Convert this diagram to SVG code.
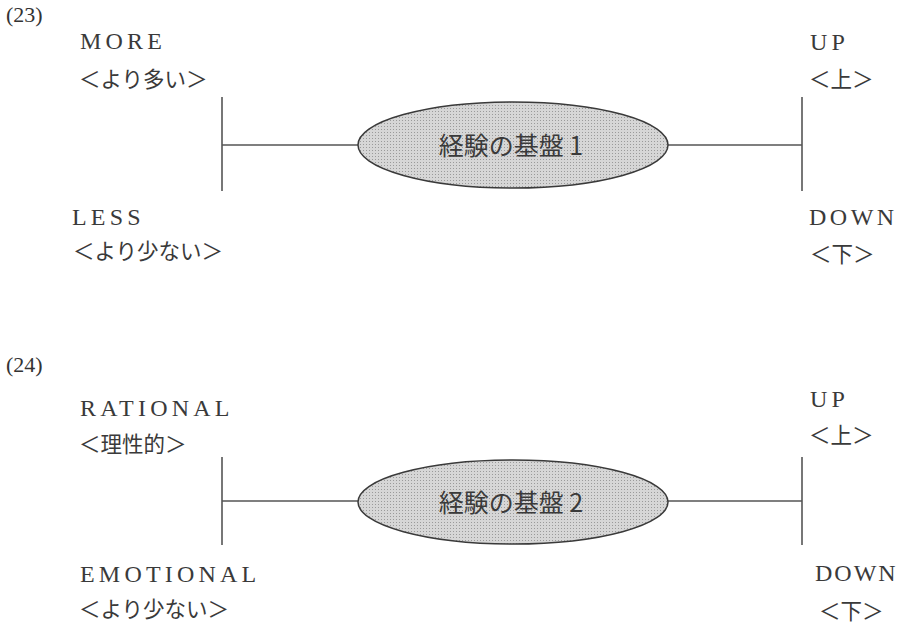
<svg xmlns="http://www.w3.org/2000/svg" width="899" height="625" viewBox="0 0 899 625">
<defs>
<style>
.num{font-family:"Liberation Serif",serif;font-size:22px;fill:#333}
.en{font-family:"Liberation Serif",serif;font-size:24px;letter-spacing:4.2px;fill:#3a3a3a}
.jp{font-family:"Noto Sans CJK JP","Noto Sans",sans-serif;font-size:21.5px;fill:#3a3a3a}
.node{stroke:#3a3a3a;stroke-width:1.5}
.nt{font-family:"Noto Sans CJK JP","Liberation Serif",serif;font-size:25px;fill:#3a3a3a;text-anchor:middle}
.ln{stroke:#555;stroke-width:1.6;fill:none}
</style>
<pattern id="dots" width="3" height="3" patternUnits="userSpaceOnUse">
<rect width="3" height="3" fill="#d6d6d6"/>
<rect width="1" height="1" fill="#9a9a9a"/>
</pattern>
</defs>
<rect width="899" height="625" fill="#fff"/>

<g id="connectors">
<line class="ln" x1="222" y1="97" x2="222" y2="191"/>
<line class="ln" x1="222" y1="145" x2="358" y2="145"/>
<line class="ln" x1="668" y1="145" x2="802" y2="145"/>
<line class="ln" x1="802" y1="97" x2="802" y2="191"/>
<line class="ln" x1="222" y1="457" x2="222" y2="545"/>
<line class="ln" x1="222" y1="501" x2="358" y2="501"/>
<line class="ln" x1="668" y1="501" x2="802" y2="501"/>
<line class="ln" x1="802" y1="457" x2="802" y2="545"/>
</g>

<g id="fig23-label"><text class="num" x="6" y="22">(23)</text></g>
<g id="fig23-more"><text class="en" x="80" y="49">MORE</text><text class="jp" x="79" y="87">＜より多い＞</text></g>
<g id="fig23-less"><text class="en" x="72" y="225">LESS</text><text class="jp" x="73" y="259">＜より少ない＞</text></g>
<g id="fig23-up"><text class="en" x="810" y="50">UP</text><text class="jp" x="809" y="87">＜上＞</text></g>
<g id="fig23-down"><text class="en" x="809" y="225" style="letter-spacing:3.5px">DOWN</text><text class="jp" x="810" y="262">＜下＞</text></g>
<g id="fig23-node">
<ellipse class="node" cx="513" cy="145" rx="155" ry="43" style="fill:url(#dots)"/>
<text class="nt" x="511" y="155">経験の基盤 1</text>
</g>

<g id="fig24-label"><text class="num" x="6" y="372">(24)</text></g>
<g id="fig24-rational"><text class="en" x="80" y="416">RATIONAL</text><text class="jp" x="79" y="452">＜理性的＞</text></g>
<g id="fig24-emotional"><text class="en" x="80" y="582">EMOTIONAL</text><text class="jp" x="79" y="617">＜より少ない＞</text></g>
<g id="fig24-up"><text class="en" x="810" y="407">UP</text><text class="jp" x="809" y="443">＜上＞</text></g>
<g id="fig24-down"><text class="en" x="815" y="581" style="letter-spacing:2px">DOWN</text><text class="jp" x="819" y="619">＜下＞</text></g>
<g id="fig24-node">
<ellipse class="node" cx="513" cy="502" rx="155" ry="42" style="fill:url(#dots)"/>
<text class="nt" x="511" y="512">経験の基盤 2</text>
</g>
</svg>
